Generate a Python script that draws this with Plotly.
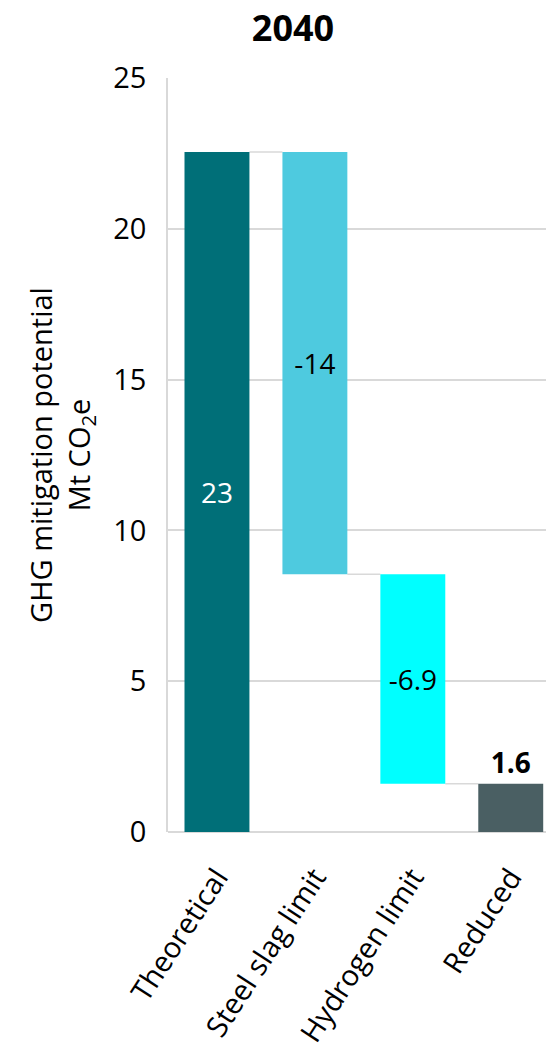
import plotly.graph_objects as go

categories = ["Theoretical", "Steel slag limit", "Hydrogen limit", "Reduced"]
values = [22.55, -14.0, -6.95, 1.6]
measures = ["absolute", "relative", "relative", "total"]
labels = ["23", "-14", "-6.9", "<b>1.6</b>"]
colors = ["#006F78", "#4ECADF", "#00FFFF", "#4A5F63"]
label_colors = ["white", "black", "black", "black"]
label_positions = ["inside", "inside", "inside", "outside"]
y_ticks = [0, 5, 10, 15, 20, 25]

# compute bases and heights for waterfall-like bars
bases, heights, ends = [], [], []
running = 0.0
for v, m in zip(values, measures):
    if m == "absolute":
        bases.append(0.0); heights.append(v); running = v
    elif m == "relative":
        bases.append(running); heights.append(v); running = running + v
    else:
        bases.append(0.0); heights.append(running)
    ends.append(running)

FONT = "Open Sans, Noto Sans, sans-serif"
BARGAP = 0.337
GRID = "#D9D9D9"

fig = go.Figure()
fig.add_trace(go.Bar(
    x=categories, y=heights, base=bases,
    marker=dict(color=colors, line=dict(width=0)),
    text=labels, textposition=label_positions,
    insidetextanchor="middle",
    textfont=dict(family=FONT, size=28, color=label_colors),
    outsidetextfont=dict(family=FONT, size=28, color="black"),
    cliponaxis=False, hoverinfo="skip",
))

# connector lines between consecutive bars
half = (1 - BARGAP) / 2
for i in range(len(categories) - 1):
    fig.add_shape(type="line", xref="x", yref="y",
                  x0=i + half, x1=i + 1 - half, y0=ends[i], y1=ends[i],
                  line=dict(color=GRID, width=1.5), layer="below")

fig.update_layout(
    width=546, height=1044,
    margin=dict(l=168, r=0, t=78, b=212),
    plot_bgcolor="white", paper_bgcolor="white",
    showlegend=False, bargap=BARGAP,
    font=dict(family=FONT, color="black"),
    title=dict(text="<b>2040</b>", x=293 / 546, xanchor="center",
               y=1 - 28 / 1044, yanchor="middle",
               font=dict(family=FONT, size=36, color="black")),
    xaxis=dict(range=[-0.5, 3.36], showgrid=False, zeroline=False,
               showline=False, tickangle=-57, automargin=False,
               ticks="outside", ticklen=16, tickcolor="rgba(0,0,0,0)",
               tickfont=dict(family=FONT, size=29, color="black")),
    yaxis=dict(range=[0, 25], tickvals=y_ticks, showgrid=True,
               gridcolor=GRID, gridwidth=1.5, automargin=False,
               zeroline=True, zerolinecolor=GRID, zerolinewidth=1.5,
               showline=True, linecolor=GRID, linewidth=1.5,
               ticks="outside", ticklen=14, tickcolor="rgba(0,0,0,0)",
               tickfont=dict(family=FONT, size=29, color="black"),
               title=dict(text="GHG mitigation potential<br>Mt CO<sub>2</sub>e",
                          font=dict(family=FONT, size=29, color="black"),
                          standoff=14)),
)

fig.write_html("out.html")
